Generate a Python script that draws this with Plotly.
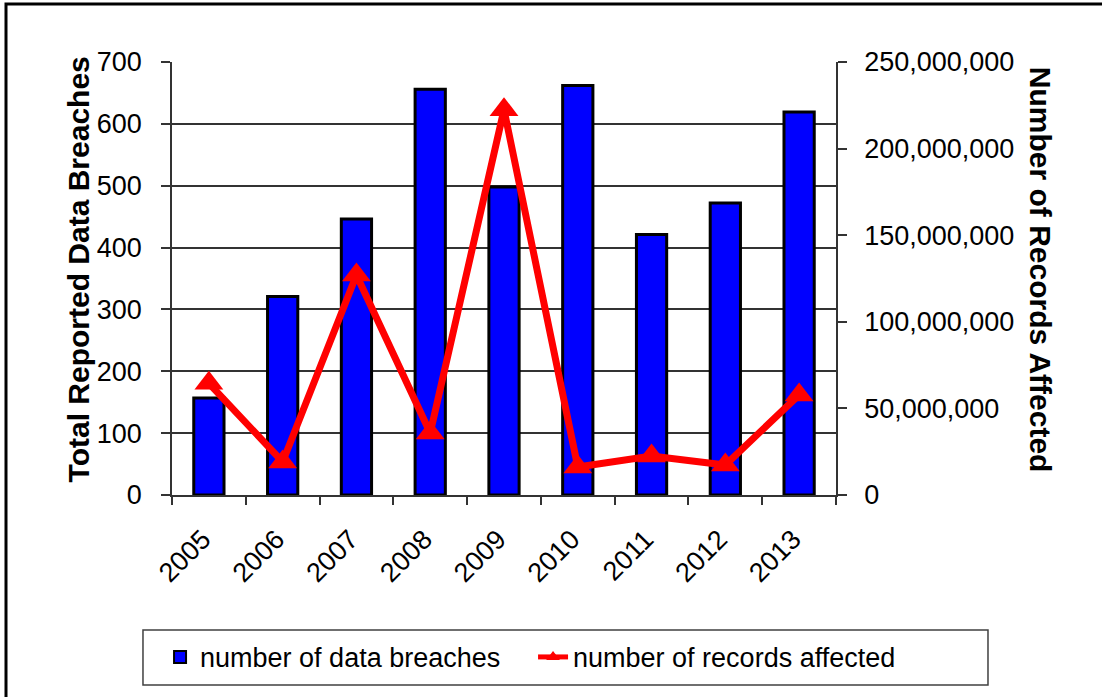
import plotly.graph_objects as go

years = ["2005", "2006", "2007", "2008", "2009", "2010", "2011", "2012", "2013"]
breaches = [157, 321, 446, 656, 498, 662, 421, 472, 619]
records = [64.5e6, 19.1e6, 127.0e6, 35.8e6, 222.5e6, 16.2e6, 22.5e6, 17.3e6, 57.8e6]

left_ticks = [0, 100, 200, 300, 400, 500, 600, 700]
right_ticks = [0, 50e6, 100e6, 150e6, 200e6, 250e6]

FONT = "Arial, Liberation Sans, sans-serif"

fig = go.Figure()
fig.add_bar(
    x=years, y=breaches, name="number of data breaches",
    marker=dict(color="#0000FF", line=dict(color="black", width=3)),
)
fig.add_scatter(
    x=years, y=records, name="number of records affected", yaxis="y2",
    mode="lines+markers",
    line=dict(color="#FF0000", width=7),
    marker=dict(symbol="triangle-up", size=25, color="#FF0000"),
)

fig.update_layout(
    width=1102, height=697,
    margin=dict(l=172, r=266, t=62, b=202),
    paper_bgcolor="white", plot_bgcolor="white",
    font=dict(family=FONT, size=27, color="black"),
    bargap=0.59,
    showlegend=True,
    legend=dict(
        orientation="h", x=-0.018, y=-0.375, xanchor="left", yanchor="middle",
        borderwidth=0, bgcolor="rgba(0,0,0,0)",
        font=dict(size=27), entrywidth=328, itemsizing="constant",
    ),
    xaxis=dict(
        type="category", range=[-0.5, 8.5], tickangle=-45,
        ticks="outside", ticklen=8,
        tickson="boundaries", tickcolor="#333333", tickwidth=1.5,
        showline=True, linecolor="#333333", linewidth=1.5,
        showgrid=False, ticklabelstandoff=16, ticklabelshift=-6,
        automargin=False,
    ),
    yaxis=dict(
        range=[0, 700], tickvals=left_ticks, ticks="outside", ticklen=9,
        tickcolor="#333333", tickwidth=1.5,
        showline=True, linecolor="#333333", linewidth=1.5,
        showgrid=True, gridcolor="#333333", gridwidth=1.5,
        zeroline=False, ticklabelstandoff=14, automargin=False,
    ),
    yaxis2=dict(
        range=[0, 250e6], tickvals=right_ticks, tickformat=",d",
        overlaying="y", side="right", ticks="outside", ticklen=9,
        tickcolor="#333333", tickwidth=1.5,
        showline=True, linecolor="#333333", linewidth=1.5,
        showgrid=False, zeroline=False, ticklabelstandoff=12, automargin=False,
    ),
    annotations=[
        dict(text="<b>Total Reported Data Breaches</b>", textangle=-90,
             xref="paper", yref="paper", x=-0.1687, y=0.522,
             showarrow=False, font=dict(size=30)),
        dict(text="<b>Number of Records Affected</b>", textangle=90,
             xref="paper", yref="paper", x=1.3358, y=0.519,
             showarrow=False, font=dict(size=30)),
    ],
    shapes=[
        # outer chart frame (right/bottom edges fall outside the picture)
        dict(type="rect", xref="paper", yref="paper",
             x0=-0.250, x1=1.60, y0=-0.60, y1=1.134,
             line=dict(color="black", width=3), layer="below"),
        # legend box
        dict(type="rect", xref="paper", yref="paper",
             x0=-0.0437, x1=1.2289, y0=-0.312, y1=-0.439,
             line=dict(color="#404040", width=1.5), layer="below"),
    ],
)

# drop the default 8px page margin so the figure fills the window exactly
fig.write_html(
    "out.html",
    config={"displayModeBar": False},
    post_script="document.body.style.margin = '0';",
)
